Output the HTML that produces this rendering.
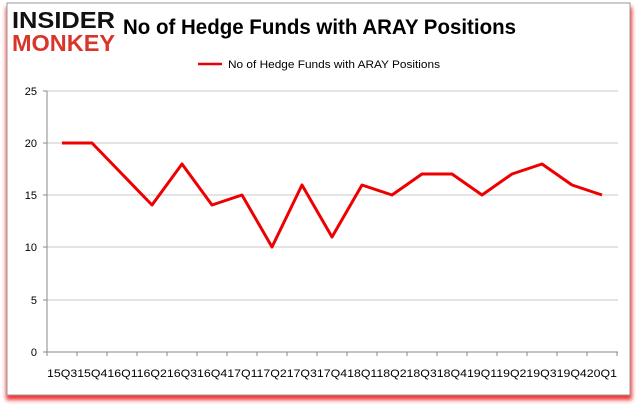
<!DOCTYPE html><html><head><style>body{margin:0;background:#fff;width:637px;height:408px;overflow:hidden}</style></head><body>
<svg width="637" height="408" xmlns="http://www.w3.org/2000/svg" font-family="Liberation Sans, sans-serif">
<defs><filter id="b"><feGaussianBlur stdDeviation="2"/></filter></defs>
<rect x="6" y="7" width="626" height="393" fill="#e00" filter="url(#b)" opacity="0.8"/>
<rect x="7" y="3" width="623" height="392" fill="#fff" stroke="#999" stroke-width="1"/>
<text x="12" y="28" font-size="23" font-weight="bold" fill="#111" textLength="103" lengthAdjust="spacingAndGlyphs">INSIDER</text>
<text x="12" y="51" font-size="23" font-weight="bold" fill="#d9362b" textLength="103" lengthAdjust="spacingAndGlyphs">MONKEY</text>
<text x="123" y="34" font-size="21" font-weight="bold" fill="#000" textLength="393" lengthAdjust="spacingAndGlyphs">No of Hedge Funds with ARAY Positions</text>
<line x1="198" y1="64" x2="222" y2="64" stroke="#e00" stroke-width="2.5"/>
<text x="228" y="68" font-size="11" fill="#000" textLength="212" lengthAdjust="spacingAndGlyphs">No of Hedge Funds with ARAY Positions</text>
<g stroke="#c8c8c8" stroke-width="1">
<line x1="47" y1="91" x2="618" y2="91"/><line x1="47" y1="143" x2="618" y2="143"/><line x1="47" y1="195" x2="618" y2="195"/><line x1="47" y1="247" x2="618" y2="247"/><line x1="47" y1="300" x2="618" y2="300"/></g>
<g stroke="#888"><line x1="47" y1="91" x2="47" y2="352"/><line x1="47" y1="352" x2="618" y2="352"/>
<path d="M47 352v4M77 352v4M107 352v4M137 352v4M167 352v4M197 352v4M227 352v4M257 352v4M287 352v4M317 352v4M347 352v4M377 352v4M407 352v4M437 352v4M467 352v4M497 352v4M527 352v4M557 352v4M587 352v4M617 352v4M43 91h4M43 143h4M43 195h4M43 247h4M43 300h4M43 352h4"/></g>
<g font-size="11" fill="#000" text-anchor="end"><text x="37" y="95">25</text><text x="37" y="147">20</text><text x="37" y="199">15</text><text x="37" y="251">10</text><text x="37" y="304">5</text><text x="37" y="356">0</text></g>
<text x="47" y="377" font-size="11" fill="#000" textLength="570" lengthAdjust="spacingAndGlyphs">15Q315Q416Q116Q216Q316Q417Q117Q217Q317Q418Q118Q218Q318Q419Q119Q219Q319Q420Q1</text>
<polyline fill="none" stroke="#e00" stroke-width="3" stroke-linejoin="round" points="62,143 92,143 122,174 152,205 182,164 212,205 242,195 272,247 302,185 332,237 362,185 392,195 422,174 452,174 482,195 512,174 542,164 572,185 602,195"/>
</svg></body></html>
